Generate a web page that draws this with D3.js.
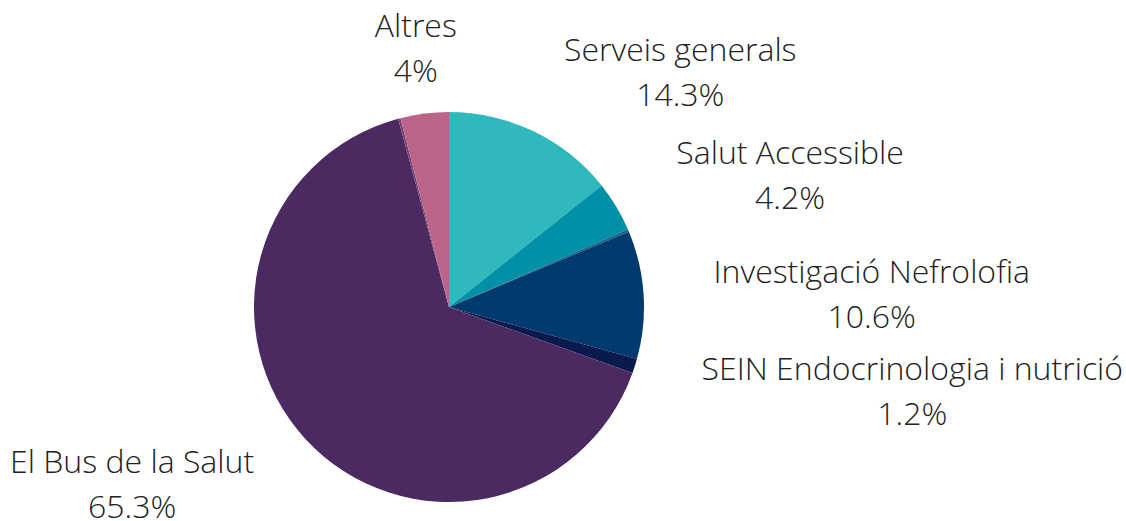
<!DOCTYPE html>
<html>
<head>
<meta charset="utf-8">
<script src="https://cdn.jsdelivr.net/npm/d3@7"></script>
<style>
  body { margin: 0; background: #fff; }
  text { font-family: "Open Sans", sans-serif; font-weight: 300; fill: #222; }
</style>
</head>
<body>
<script>
var width = 1126
var height = 521
var cx = 449, cy = 307, radius = 195

// slices clockwise from 12 o'clock; two tiny unlabeled slivers
var categories = ['Serveis generals', 'Salut Accessible', '', 'Investigació Nefrolofia', 'SEIN Endocrinologia i nutrició', 'El Bus de la Salut', '', 'Altres']
var values = [14.3, 4.2, 0.2, 10.6, 1.2, 65.3, 0.2, 4]
var valueLabels = ['14.3%', '4.2%', '', '10.6%', '1.2%', '65.3%', '', '4%']
var colors = ['#2fb9bd', '#0090a8', '#1a5f86', '#003a6e', '#0b1a4d', '#4b2a62', '#7a3f73', '#b96488']

var data = categories.map((c, i) => ({ name: c, value: values[i], label: valueLabels[i], color: colors[i] }))

var svg = d3.select('body').append('svg').attr('width', width).attr('height', height)
var g = svg.append('g').attr('transform', `translate(${cx},${cy})`)

var pie = d3.pie().value(d => d.value).sort(null)
var arc = d3.arc().innerRadius(0).outerRadius(radius)
var arcs = pie(data)

g.selectAll('path').data(arcs).enter().append('path')
    .attr('d', arc)
    .attr('fill', d => d.data.color)

var labelR = 265
var lineGap = 45
var fontSize = 32

arcs.filter(d => d.data.name).forEach(d => {
    var a = (d.startAngle + d.endAngle) / 2
    var px = labelR * Math.sin(a)
    var py = -labelR * Math.cos(a)
    var lg = g.append('g')
    var t1 = lg.append('text').attr('font-size', fontSize).attr('text-anchor', 'middle').text(d.data.name)
    var t2 = lg.append('text').attr('font-size', fontSize).attr('text-anchor', 'middle').text(d.data.label)
    var w = Math.max(t1.node().getComputedTextLength(), t2.node().getComputedTextLength())
    var s = Math.sin(a)
    var mx = Math.abs(s) < 0.3 ? px : (s > 0 ? px + w / 2 : px - w / 2)
    var y1 = py - 7
    // keep the second line inside the picture
    var maxY = height - cy - 4
    if (y1 + lineGap > maxY) y1 = maxY - lineGap + 1
    t1.attr('x', mx).attr('y', y1)
    t2.attr('x', mx).attr('y', y1 + lineGap)
})
</script>
</body>
</html>
